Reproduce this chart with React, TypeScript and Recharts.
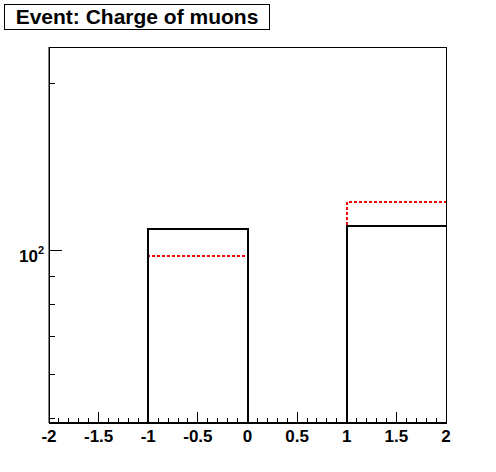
import { ComposedChart, Line, XAxis, YAxis, ReferenceArea } from "recharts";

// histogram: 4 bins of width 1 between -2 and 2
const binEdges = [-2, -1, 0, 1, 2];
const blackCounts = [0, 109.5, 0, 111];
const redCounts = [0, 98, 0, 122.5];

const xMajorTicks = [-2, -1.5, -1, -0.5, 0, 0.5, 1, 1.5, 2];
const xMajorLabels = ["-2", "-1.5", "-1", "-0.5", "0", "0.5", "1", "1.5", "2"];
const yTicks = [50, 60, 70, 80, 90, 100, 200];
const yMajorTicks = [100];

const Y_MIN = 49;
const Y_MAX = 233;
const FONT = "'Liberation Sans', Arial, Helvetica, sans-serif";

// 4 minor ticks between each pair of major ticks
const xAllTicks: number[] = [];
xMajorTicks.forEach((v, i) => {
  xAllTicks.push(v);
  if (i < xMajorTicks.length - 1) {
    const step = (xMajorTicks[i + 1] - v) / 5;
    for (let k = 1; k < 5; k++) xAllTicks.push(+(v + k * step).toFixed(4));
  }
});

const clip = (v: number) => (v <= 0 ? Y_MIN : v);

const chartData = binEdges.map((x, i) => {
  const j = Math.min(i, blackCounts.length - 1);
  return { x, black: clip(blackCounts[j]), red: clip(redCounts[j]) };
});

const XTick = ({ x, y, payload }: any) => {
  const idx = xMajorTicks.indexOf(payload.value);
  const major = idx >= 0;
  return (
    <g>
      <line x1={x} x2={x} y1={y} y2={y - (major ? 11 : 5)} stroke="#000" strokeWidth={1} shapeRendering="crispEdges" />
      {major && (
        <text x={x} y={y + 19} textAnchor="middle" fontFamily={FONT} fontWeight="bold" fontSize={17} fill="#000">
          {xMajorLabels[idx]}
        </text>
      )}
    </g>
  );
};

const YTick = ({ x, y, payload }: any) => {
  const major = yMajorTicks.includes(payload.value);
  const exp = Math.round(Math.log10(payload.value));
  return (
    <g>
      <line x1={x} x2={x + (major ? 13 : 6)} y1={y} y2={y} stroke="#000" strokeWidth={1} shapeRendering="crispEdges" />
      {major && (
        <text x={x - 5} y={y + 11} textAnchor="end" fontFamily={FONT} fontWeight="bold" fontSize={17} fill="#000">
          10
          <tspan fontSize={11} dy={-8}>{exp}</tspan>
        </text>
      )}
    </g>
  );
};

export default function App() {
  return (
    <div style={{ position: "absolute", left: 0, top: 0, width: 496, height: 472, background: "#fff" }}>
      <ComposedChart width={496} height={472} data={chartData} margin={{ top: 47, right: 50, left: 0, bottom: 0 }}>
        <XAxis
          dataKey="x"
          type="number"
          domain={[-2, 2]}
          ticks={xAllTicks}
          interval={0}
          tick={(p: any) => <XTick {...p} />}
          tickLine={false}
          tickSize={0}
          tickMargin={0}
          height={49}
          axisLine={{ stroke: "#000", strokeWidth: 2 }}
        />
        <YAxis
          type="number"
          scale="log"
          domain={[Y_MIN, Y_MAX]}
          allowDataOverflow
          ticks={yTicks}
          interval={0}
          tick={(p: any) => <YTick {...p} />}
          tickLine={false}
          tickSize={0}
          tickMargin={0}
          width={49}
          axisLine={{ stroke: "#000", strokeWidth: 1 }}
        />
        <ReferenceArea x1={-2} x2={2} y1={Y_MIN} y2={Y_MAX} fill="none" stroke="#000" strokeWidth={1} shapeRendering="crispEdges" />
        <Line
          type="stepAfter"
          dataKey="red"
          stroke="#ff0000"
          strokeWidth={2}
          strokeDasharray="3 2"
          shapeRendering="crispEdges"
          dot={false}
          isAnimationActive={false}
        />
        <Line
          type="stepAfter"
          dataKey="black"
          stroke="#000"
          strokeWidth={2}
          shapeRendering="crispEdges"
          dot={false}
          isAnimationActive={false}
        />
      </ComposedChart>
      <div
        style={{
          position: "absolute",
          left: 4,
          top: 4,
          width: 266,
          height: 26,
          boxSizing: "border-box",
          border: "1px solid #000",
          background: "#fff",
          fontFamily: FONT,
          fontWeight: "bold",
          fontSize: 21,
          lineHeight: "24px",
          textAlign: "center",
        }}
      >
        Event: Charge of muons
      </div>
    </div>
  );
}
